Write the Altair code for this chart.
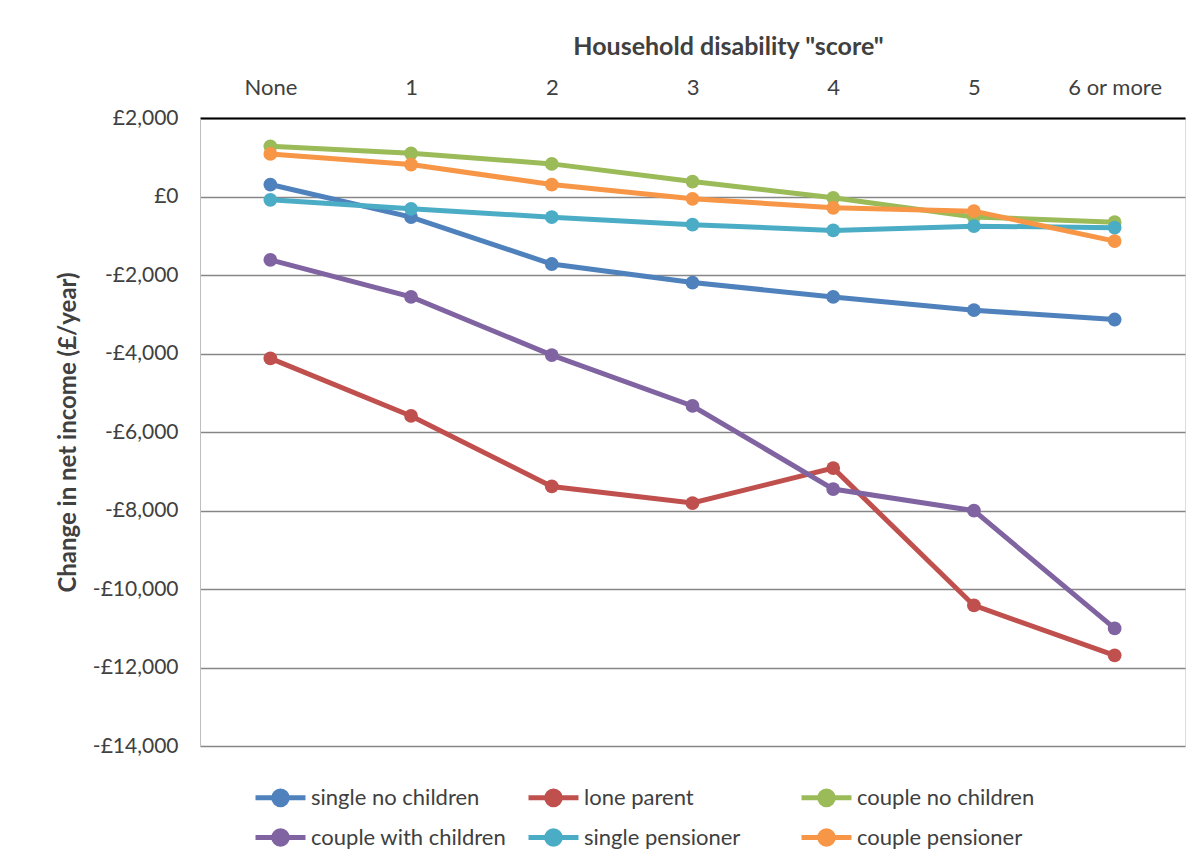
import altair as alt
import pandas as pd

categories = ["None", "1", "2", "3", "4", "5", "6 or more"]
series_names = ["single no children", "lone parent", "couple no children",
                "couple with children", "single pensioner", "couple pensioner"]
single_no_children = [305, -526, -1720, -2193, -2559, -2897, -3134]
lone_parent = [-4125, -5591, -7388, -7810, -6920, -10419, -11690]
couple_no_children = [1278, 1100, 831, 381, -33, -520, -653]
couple_with_children = [-1614, -2559, -4041, -5337, -7454, -8005, -11004]
single_pensioner = [-84, -313, -526, -719, -864, -755, -796]
couple_pensioner = [1085, 813, 305, -58, -287, -373, -1136]
colors = ["#4F81BD", "#C0504D", "#9BBB59", "#8064A2", "#4BACC6", "#F79646"]
y_ticks = [2000, 0, -2000, -4000, -6000, -8000, -10000, -12000, -14000]

all_series = [single_no_children, lone_parent, couple_no_children,
              couple_with_children, single_pensioner, couple_pensioner]
rows = []
for name, vals in zip(series_names, all_series):
    for c, v in zip(categories, vals):
        rows.append({"score": c, "series": name, "value": v})
df = pd.DataFrame(rows)

FONT = "Lato"

x = alt.X("score:N", sort=categories,
          scale=alt.Scale(type="point", padding=0.5),
          axis=alt.Axis(orient="top", title='Household disability "score"',
                        labelAngle=0, ticks=False, domainColor="#000000",
                        domainWidth=2, labelPadding=19, labelFontSize=22,
                        labelColor="#404040", titleFontSize=25,
                        titleFontWeight="bold", titleColor="#404040",
                        titleX=528, titleY=-72, titleAnchor="middle",
                        titleBaseline="middle", grid=False))
y = alt.Y("value:Q",
          scale=alt.Scale(domain=[-14000, 2000], nice=False, zero=False),
          axis=alt.Axis(title="Change in net income (£/year)", values=y_ticks,
                        labelExpr="datum.value < 0 ? '-£' + format(-datum.value, ',') : '£' + format(datum.value, ',')",
                        ticks=False, domainColor="#BFBFBF", domainWidth=1,
                        labelPadding=22, labelFontSize=21, labelColor="#404040",
                        gridColor="#868686", gridWidth=1.5,
                        titleFontSize=24, titleFontWeight="bold",
                        titleColor="#404040", titleX=-132, titleY=314,
                        titleAngle=-90, titleAlign="center",
                        titleBaseline="middle"))
color = alt.Color("series:N", sort=series_names,
                  scale=alt.Scale(domain=series_names, range=colors),
                  legend=alt.Legend(orient="none", legendX=61, legendY=660,
                                    direction="horizontal", columns=3,
                                    gridAlign="all", columnPadding=11,
                                    rowPadding=3, title=None,
                                    symbolType="M-1.47,0 L1.47,0 M-0.4,0 A0.4,0.4 0 1,0 0.4,0 A0.4,0.4 0 1,0 -0.4,0 Z",
                                    symbolSize=1156, symbolStrokeWidth=5,
                                    labelFontSize=22, labelColor="#404040",
                                    labelOffset=11, labelLimit=400,
                                    labelFont=FONT))

lines = alt.Chart(df).mark_line(strokeWidth=5).encode(x=x, y=y, color=color)
points = alt.Chart(df).mark_point(filled=True, size=190, opacity=1).encode(
    x=x, y=y, color=alt.Color("series:N", sort=series_names,
                              scale=alt.Scale(domain=series_names, range=colors),
                              legend=None))

chart = (lines + points).properties(
    width=985, height=628,
    autosize=alt.AutoSizeParams(type="none"),
    padding={"left": 192, "top": 110, "right": 9, "bottom": 110},
).configure_view(stroke=None).configure(font=FONT)

chart.save("out.html", embed_options={"renderer": "svg", "actions": False})
